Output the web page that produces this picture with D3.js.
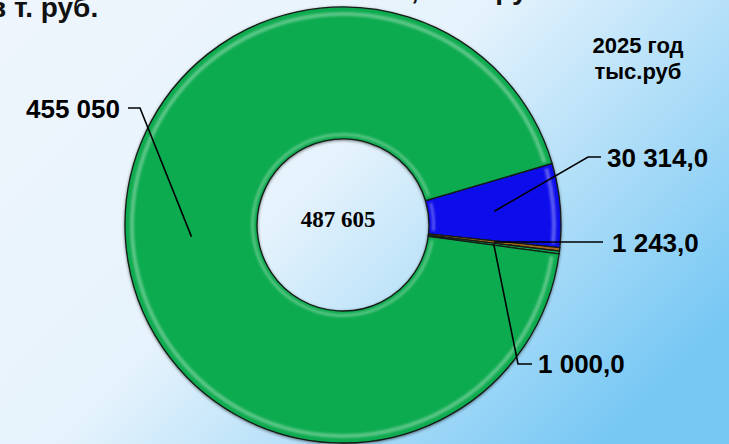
<!DOCTYPE html>
<html>
<head>
<meta charset="utf-8">
<script src="https://cdn.jsdelivr.net/npm/d3@7"></script>
<style>
  html, body { margin: 0; padding: 0; overflow: hidden; }
  svg { display: block; }
</style>
</head>
<body>
<script>
// slices, clockwise from the blue one
const categories = ['s1', 's2', 's3', 's4'];
const values = [30314.0, 1243.0, 1000.0, 455050];
const valueLabels = ['30 314,0', '1 243,0', '1 000,0', '455 050'];
const totalLabel = '487 605';
const yearLines = ['2025 год', 'тыс.руб'];

const width = 729, height = 444;
const cx = 343, cy = 225;
const outerR = 218, innerR = 86;
const colors = ['#0a0bec', '#a8681a', '#08ab50', '#08ab50'];

// leader bends and label anchors, per slice
const leaders = [
    {bend: [588, 157], end: [601, 157], tx: 607, ty: 167, anchor: 'start'},
    {bend: null, end: [603, 242], tx: 612, ty: 252, anchor: 'start'},
    {bend: [518, 364], end: [532, 364], tx: 538, ty: 373, anchor: 'start'},
    {bend: [140, 108], end: [128, 108], tx: 120, ty: 118, anchor: 'end'}
];

const svg = d3.select('body').append('svg')
    .attr('width', width)
    .attr('height', height);

const defs = svg.append('defs');
const bg = defs.append('linearGradient')
    .attr('id', 'bg')
    .attr('x1', 0).attr('y1', 0.1)
    .attr('x2', 1).attr('y2', 0.7);
bg.append('stop').attr('offset', 0).attr('stop-color', '#eef5fc');
bg.append('stop').attr('offset', 0.45).attr('stop-color', '#e6f3fc');
bg.append('stop').attr('offset', 1).attr('stop-color', '#78c8f4');

const shadow = defs.append('filter').attr('id', 'shadow')
    .attr('x', -0.1).attr('y', -0.1).attr('width', 1.2).attr('height', 1.2);
shadow.append('feDropShadow')
    .attr('dx', 0).attr('dy', 1).attr('stdDeviation', 1.5)
    .attr('flood-color', '#000').attr('flood-opacity', 0.5);

const blur = defs.append('filter').attr('id', 'blur');
blur.append('feGaussianBlur').attr('stdDeviation', 1.2);

svg.append('rect')
    .attr('width', width)
    .attr('height', height)
    .attr('fill', 'url(#bg)');

// title lines cut by the top edge
svg.append('text')
    .attr('x', -11).attr('y', 17)
    .attr('font-family', 'Liberation Sans, Arial, sans-serif')
    .attr('font-weight', 'bold')
    .attr('font-size', 28)
    .attr('fill', '#111')
    .text('в т. руб.');

svg.append('text')
    .attr('x', 411).attr('y', -1)
    .attr('font-family', 'Liberation Sans, Arial, sans-serif')
    .attr('font-weight', 'bold')
    .attr('font-size', 28)
    .attr('fill', '#111')
    .text(', тыс. руб');

const startA = 73.6 * Math.PI / 180;
const pie = d3.pie()
    .sort(null)
    .value(d => d)
    .startAngle(startA)
    .endAngle(startA + 2 * Math.PI);

const arcs = pie(values);

const arc = d3.arc().innerRadius(innerR).outerRadius(outerR);
const hiOuter = d3.arc().innerRadius(outerR - 9).outerRadius(outerR - 5);
const hiInner = d3.arc().innerRadius(innerR + 3).outerRadius(innerR + 6);

const g = svg.append('g').attr('transform', `translate(${cx},${cy})`);

g.append('g')
    .attr('filter', 'url(#shadow)')
    .selectAll('path')
    .data(arcs)
    .join('path')
    .attr('d', arc)
    .attr('fill', (d, i) => colors[i])
    .attr('stroke', '#151a15')
    .attr('stroke-width', 1.3);

// bevel highlights
const hl = g.append('g').attr('filter', 'url(#blur)').attr('pointer-events', 'none');
hl.selectAll('.ho')
    .data(arcs.filter(d => d.endAngle - d.startAngle > 0.1))
    .join('path')
    .attr('class', 'ho')
    .attr('d', d => hiOuter({startAngle: d.startAngle + 0.015, endAngle: d.endAngle - 0.015}))
    .attr('fill', '#ffffff')
    .attr('opacity', 0.32);
hl.selectAll('.hi')
    .data(arcs.filter(d => d.endAngle - d.startAngle > 0.1))
    .join('path')
    .attr('class', 'hi')
    .attr('d', d => hiInner({startAngle: d.startAngle + 0.04, endAngle: d.endAngle - 0.04}))
    .attr('fill', '#ffffff')
    .attr('opacity', 0.3);

// leader lines
const leaderG = svg.append('g');
arcs.forEach((d, i) => {
    const c = arc.centroid(d);
    const p0 = [cx + c[0], cy + c[1]];
    const L = leaders[i];
    const pts = L.bend ? [p0, L.bend, L.end] : [p0, L.end];
    leaderG.append('path')
        .attr('d', d3.line()(pts))
        .attr('fill', 'none')
        .attr('stroke', '#000')
        .attr('stroke-width', 1.6);
    svg.append('text')
        .attr('x', L.tx).attr('y', L.ty)
        .attr('text-anchor', L.anchor)
        .attr('font-family', 'Liberation Sans, Arial, sans-serif')
        .attr('font-weight', 'bold')
        .attr('font-size', 26)
        .attr('fill', '#000')
        .text(valueLabels[i]);
});

svg.append('text')
    .attr('x', 338).attr('y', 227)
    .attr('text-anchor', 'middle')
    .attr('font-family', 'Liberation Serif, Times New Roman, serif')
    .attr('font-weight', 'bold')
    .attr('font-size', 23)
    .attr('fill', '#000')
    .text(totalLabel);

svg.append('g')
    .selectAll('text')
    .data(yearLines)
    .join('text')
    .attr('x', 638)
    .attr('y', (d, i) => 53 + i * 26)
    .attr('text-anchor', 'middle')
    .attr('font-family', 'Liberation Sans, Arial, sans-serif')
    .attr('font-weight', 'bold')
    .attr('font-size', 22)
    .attr('fill', '#000')
    .text(d => d);
</script>
</body>
</html>
